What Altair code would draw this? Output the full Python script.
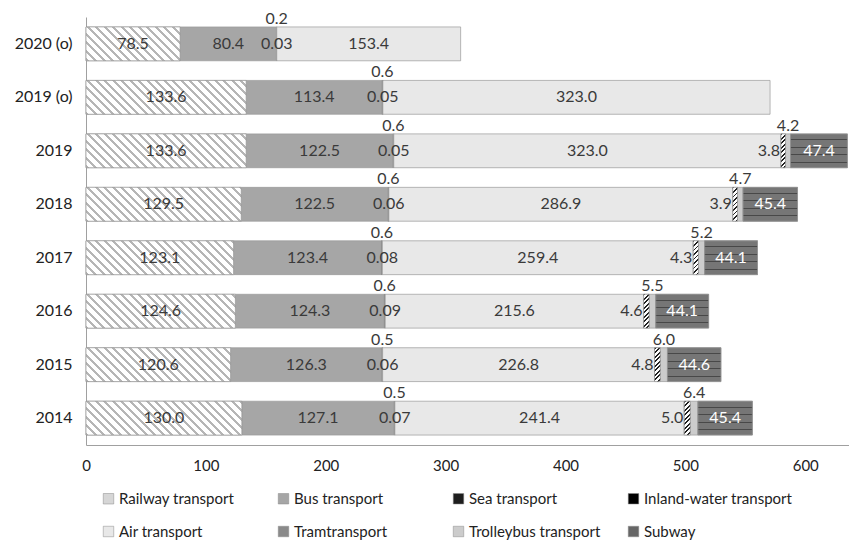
import altair as alt

years = ["2020 (o)", "2019 (o)", "2019", "2018", "2017", "2016", "2015", "2014"]
categories = ["Railway transport", "Bus transport", "Sea transport", "Inland-water transport",
              "Air transport", "Tramtransport", "Trolleybus transport", "Subway"]

railway = [78.5, 133.6, 133.6, 129.5, 123.1, 124.6, 120.6, 130.0]
bus = [80.4, 113.4, 122.5, 122.5, 123.4, 124.3, 126.3, 127.1]
sea = [0.2, 0.6, 0.6, 0.6, 0.6, 0.6, 0.5, 0.5]
inland = [0.03, 0.05, 0.05, 0.06, 0.08, 0.09, 0.06, 0.07]
air = [153.4, 323.0, 323.0, 286.9, 259.4, 215.6, 226.8, 241.4]
tram = [None, None, 3.8, 3.9, 4.3, 4.6, 4.8, 5.0]
trolley = [None, None, 4.2, 4.7, 5.2, 5.5, 6.0, 6.4]
subway = [None, None, 47.4, 45.4, 44.1, 44.1, 44.6, 45.4]

colors = ["#d6d6d6", "#a6a6a6", "#1e1e1e", "#000000",
          "#e8e8e8", "#8a8a8a", "#cccccc", "#666666"]

# layout constants
W, H = 763, 428
XMAX = 636.5
P_IN, P_OUT = 0.367, 0.186
PX = W / XMAX
STEP = H / (len(years) - P_IN + 2 * P_OUT)
BAR_H = STEP * (1 - P_IN)


def diag_gradient(w, h, period, line, c_line, c_bg, down=True):
    """Diagonal hatch approximated with a linear gradient in bbox units."""
    w = max(w, 0.5)
    r = h / w
    s = (1 + r) / (1 + r * r)
    L = w + h
    stops = []
    pos = 0.0
    while pos < L:
        a, b = pos / L, min((pos + line) / L, 1.0)
        stops += [{"offset": a, "color": c_line}, {"offset": b, "color": c_line},
                  {"offset": b, "color": c_bg}, {"offset": min((pos + period) / L, 1.0), "color": c_bg}]
        pos += period
    if down:  # "\" hatch
        g = {"gradient": "linear", "x1": 0, "y1": 1, "x2": s, "y2": 1 - s * r, "stops": stops}
    else:  # "/" hatch
        g = {"gradient": "linear", "x1": 0, "y1": 0, "x2": s, "y2": s * r, "stops": stops}
    return g


def horiz_gradient(h, lines, width, c_line, c_bg):
    stops = [{"offset": 0, "color": c_bg}]
    for ly in lines:
        a, b = (ly - width / 2) / h, (ly + width / 2) / h
        stops += [{"offset": a, "color": c_bg}, {"offset": a, "color": c_line},
                  {"offset": b, "color": c_line}, {"offset": b, "color": c_bg}]
    stops.append({"offset": 1, "color": c_bg})
    return {"gradient": "linear", "x1": 0, "y1": 0, "x2": 0, "y2": 1, "stops": stops}


series = [railway, bus, sea, inland, air, tram, trolley, subway]
rows = []
for yi, yr in enumerate(years):
    cum = 0.0
    for ci, cat in enumerate(categories):
        v = series[ci][yi]
        if v is None:
            continue
        txt = f"{v:.2f}" if cat == "Inland-water transport" else f"{v:.1f}"
        rec = {"year": yr, "cat": cat, "order": ci, "value": v,
               "start": cum, "end": cum + v, "mid": cum + v / 2, "label": txt}
        wpx = v * PX
        if cat == "Railway transport":
            rec["grad"] = diag_gradient(wpx, BAR_H, 8.5, 2.8, "#b6b6b6", "#ffffff", down=True)
        elif cat == "Tramtransport":
            rec["grad"] = diag_gradient(wpx, BAR_H, 4.5, 1.8, "#202020", "#ffffff", down=False)
        elif cat == "Subway":
            rec["grad"] = horiz_gradient(BAR_H, [6, 13.5, 21, 28.5], 1.2, "#484848", "#767676")
        rows.append(rec)
        cum += v

data = alt.Data(values=rows)

FONT = "Lato"
ysc = alt.Scale(domain=years, paddingInner=P_IN, paddingOuter=P_OUT)
xsc = alt.Scale(domain=[0, XMAX], nice=False)

bars = alt.Chart(data).mark_bar(stroke="#999999", strokeWidth=0.7).encode(
    y=alt.Y("year:N", scale=ysc, sort=years,
            axis=alt.Axis(title=None, ticks=False, labelPadding=14, labelFontSize=16,
                          labelColor="#222222", labelFont=FONT, domainColor="#a0a0a0")),
    x=alt.X("start:Q", scale=xsc,
            axis=alt.Axis(title=None, ticks=False, grid=False, values=[0, 100, 200, 300, 400, 500, 600],
                          labelFlush=False,
                          labelPadding=13, labelFontSize=15, labelColor="#222222", labelFont=FONT,
                          domainColor="#a0a0a0")),
    x2="end:Q",
    color=alt.Color("cat:N", scale=alt.Scale(domain=categories, range=colors),
                    legend=alt.Legend(title=None, orient="none", legendX=15, legendY=474,
                                      direction="horizontal", columns=4, gridAlign="all",
                                      symbolType="square", symbolSize=110, symbolStrokeWidth=0.5,
                                      symbolStrokeColor="#888888",
                                      labelFontSize=15, labelFont=FONT, labelColor="#222222",
                                      columnPadding=8, rowPadding=17, labelOffset=3)),
    order="order:Q",
)

hatched = alt.Chart(data).transform_filter(
    alt.FieldOneOfPredicate(field="cat", oneOf=["Railway transport", "Tramtransport", "Subway"])
).mark_bar(stroke="#999999", strokeWidth=0.7).encode(
    y=alt.Y("year:N", scale=ysc, sort=years),
    x=alt.X("start:Q", scale=xsc), x2="end:Q",
    fill=alt.Fill("grad:N", scale=None),
)

center_cats = ["Railway transport", "Bus transport", "Air transport", "Inland-water transport"]
center = alt.Chart(data).transform_filter(
    alt.FieldOneOfPredicate(field="cat", oneOf=center_cats)
).mark_text(fontSize=16, font=FONT, color="#3a3a3a", baseline="middle").encode(
    y=alt.Y("year:N", scale=ysc, sort=years), x=alt.X("mid:Q", scale=xsc), text="label:N")

sub = alt.Chart(data).transform_filter(alt.datum.cat == "Subway").mark_text(
    fontSize=16, font=FONT, color="#ffffff", baseline="middle").encode(
    y=alt.Y("year:N", scale=ysc, sort=years), x=alt.X("mid:Q", scale=xsc), text="label:N")

above = alt.Chart(data).transform_filter(
    alt.FieldOneOfPredicate(field="cat", oneOf=["Sea transport", "Trolleybus transport"])
).mark_text(fontSize=16, font=FONT, color="#3a3a3a", baseline="bottom", dy=-17).encode(
    y=alt.Y("year:N", scale=ysc, sort=years), x=alt.X("mid:Q", scale=xsc), text="label:N")

tramlab = alt.Chart(data).transform_filter(alt.datum.cat == "Tramtransport").mark_text(
    fontSize=16, font=FONT, color="#3a3a3a", baseline="middle", align="right", dx=-1).encode(
    y=alt.Y("year:N", scale=ysc, sort=years), x=alt.X("start:Q", scale=xsc), text="label:N")

chart = alt.layer(bars, hatched, center, sub, above, tramlab).properties(
    width=W, height=H,
    autosize=alt.AutoSizeParams(type="none"),
    padding={"left": 78, "top": 9, "right": 0, "bottom": 96},
).configure_view(stroke=None)

chart.save("out.html", embed_options={"renderer": "svg", "actions": False})
